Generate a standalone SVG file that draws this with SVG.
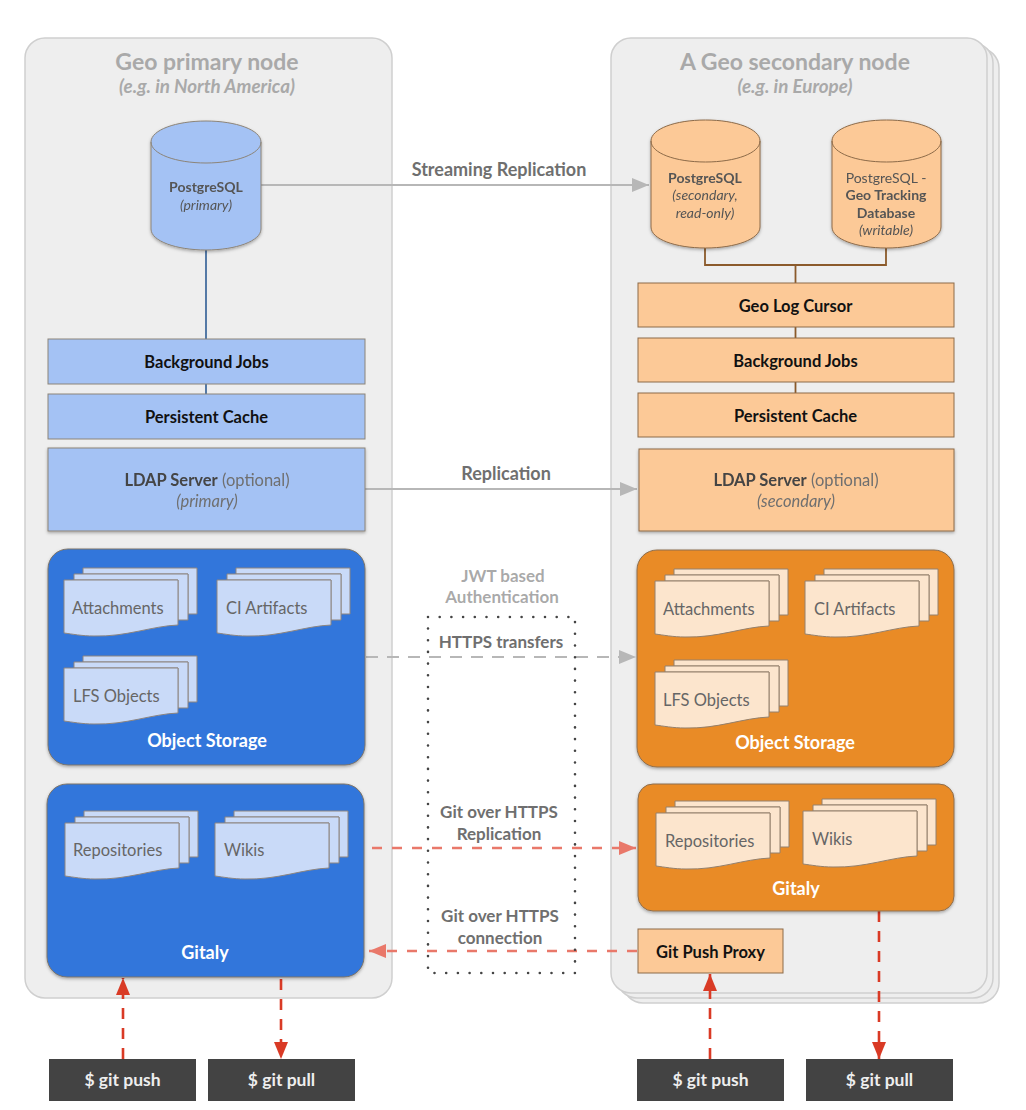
<svg xmlns="http://www.w3.org/2000/svg" xmlns:xlink="http://www.w3.org/1999/xlink" width="1026" height="1110" viewBox="0 0 1026 1110">
<style>
text{font-family:"Lato","Noto Sans","Liberation Sans",sans-serif;text-anchor:middle;transform:translateY(1px)}
.b{font-weight:700}.i{font-style:italic}
.title{font-size:23px;font-weight:700;fill:#a9a9a9}
.sub{font-size:18.800px;font-weight:700;font-style:italic;fill:#a9a9a9}
.lbl{font-size:17px;fill:#6f6f6f}
.lbl2{font-size:16.500px;fill:#6f6f6f}
.lbl18{font-size:18px}
.lblw{font-weight:700}
.box{font-size:16.500px;font-weight:700;fill:#111}
.db{font-size:14px;fill:#555}
.doc{font-size:16.500px;fill:#666;text-anchor:start}
.white{font-size:18px;font-weight:700;fill:#fff}
.cmd{font-size:17.500px;font-weight:700;fill:#eee}
.panel{fill:#eeeeee;stroke:#cfcfcf;stroke-width:1.500}
.bb{fill:#a4c2f4;stroke:#8c8478;stroke-width:1}
.ob{fill:#fcc997;stroke:#8c6a48;stroke-width:1}
.bs{fill:#3076db;stroke:#7d7468;stroke-width:1}
.os{fill:#e98b27;stroke:#8d6e4e;stroke-width:1}
.dark{fill:#434343}
.grey{fill:none;stroke:#b7b7b7;stroke-width:2.200}
.salmon{fill:none;stroke:#e9786a;stroke-width:2.400;stroke-dasharray:10 10}
.red{fill:none;stroke:#d93a25;stroke-width:2.600;stroke-dasharray:11 9}
.ds{fill:#c9daf8;stroke:#8d8580;stroke-width:1}
.dso{fill:#fce5cd;stroke:#94806c;stroke-width:1}
</style>
<defs>
<filter id="sh" x="-5%" y="-5%" width="110%" height="112%"><feDropShadow dx="0" dy="1.500" stdDeviation="1.500" flood-color="#000" flood-opacity="0.300"/></filter>
<g id="stack">
<path d="M19 -12H133V34H124V-6H19Z"/>
<path d="M10 -6H124V40H114V0H10Z"/>
<path d="M0 0H114V45C88 46 62 57 30 56 18 56 8 54 0 53Z"/>
</g>
<marker id="ag" markerUnits="userSpaceOnUse" markerWidth="18" markerHeight="14" refX="17" refY="7" orient="auto"><path d="M0 0L17 7L0 14Z" fill="#b7b7b7"/></marker>
<marker id="as" markerUnits="userSpaceOnUse" markerWidth="18" markerHeight="16" refX="17" refY="7" orient="auto"><path d="M0 0L17 7L0 14Z" fill="#e9786a"/></marker>
<marker id="ar" markerUnits="userSpaceOnUse" markerWidth="18" markerHeight="16" refX="17" refY="7" orient="auto"><path d="M0 0L17 7L0 14Z" fill="#d93a25"/></marker>
</defs>
<rect width="1026" height="1110" fill="#fff"/>

<g id="geo-primary-panel">
<rect class="panel" x="25" y="38" width="367" height="960" rx="20"/>
<text class="title" x="207" y="69">Geo primary node</text>
<text class="sub" x="207" y="92">(e.g. in North America)</text>
</g>
<g id="geo-secondary-panel">
<rect class="panel" x="623" y="48" width="376" height="955" rx="20"/>
<rect class="panel" x="617" y="43" width="376" height="955" rx="20"/>
<rect class="panel" x="611" y="38" width="376" height="955" rx="20"/>
<text class="title" x="795" y="69">A Geo secondary node</text>
<text class="sub" x="795" y="92">(e.g. in Europe)</text>
</g>

<g id="connectors">
<path d="M206 250V339M206 384V394" fill="none" stroke="#2f5d94" stroke-width="1.600"/>
<path d="M705 248V265H886V248M795.500 265V283M795.500 327V338M795.500 382V393" fill="none" stroke="#8b5a2b" stroke-width="1.800"/>
<path class="grey" d="M261 185H649" marker-end="url(#ag)"/>
<path class="grey" d="M365 489H637" marker-end="url(#ag)"/>
<path class="grey" d="M366 657H636" stroke-dasharray="12 9" marker-end="url(#ag)"/>
<path class="salmon" d="M372 848H636" marker-end="url(#as)"/>
<path class="salmon" d="M637 951H369" marker-end="url(#as)"/>
<path class="red" d="M123 1059V978" marker-end="url(#ar)"/>
<path class="red" d="M281 979V1059" marker-end="url(#ar)"/>
<path class="red" d="M710 1059V974" marker-end="url(#ar)"/>
<path class="red" d="M879 911V1059" marker-end="url(#ar)"/>
<rect x="428" y="617" width="147" height="356" fill="none" stroke="#444" stroke-width="2.600" stroke-linecap="round" stroke-dasharray="0 11.700"/>
</g>

<g id="connector-labels">
<text class="lbl lblw lbl18" x="499" y="175">Streaming Replication</text>
<text class="lbl lblw lbl18" x="506" y="479">Replication</text>
<text class="lbl lblw" x="503" y="581" fill-opacity=".6">JWT based</text>
<text class="lbl lblw" x="502" y="602" fill-opacity=".6">Authentication</text>
<text class="lbl lblw" x="501" y="647">HTTPS transfers</text>
<text class="lbl lblw" x="499" y="817">Git over HTTPS</text>
<text class="lbl lblw" x="499" y="839">Replication</text>
<text class="lbl lblw" x="500" y="921">Git over HTTPS</text>
<text class="lbl lblw" x="500" y="943">connection</text>
</g>

<g id="postgres-primary" filter="url(#sh)">
<path class="bb" d="M151 142V229C151 241 176 250 206 250S261 241 261 229V142C261 130 236 121 206 121S151 130 151 142C151 154 176 163 206 163S261 154 261 142"/>
<text class="db b" x="206" y="191" fill="#333">PostgreSQL</text>
<text class="db i" x="206" y="209">(primary)</text>
</g>
<g id="background-jobs-primary"><rect class="bb" x="48" y="339" width="317" height="45"/><text class="box" x="206.500" y="367">Background Jobs</text></g>
<g id="persistent-cache-primary"><rect class="bb" x="48" y="394" width="317" height="45"/><text class="box" x="206.500" y="422">Persistent Cache</text></g>
<g id="ldap-primary" filter="url(#sh)"><rect class="bb" x="48" y="448" width="317" height="83"/>
<text class="lbl2" x="207" y="485"><tspan class="b" fill="#444">LDAP Server</tspan> (optional)</text>
<text class="lbl2 i" x="207" y="506">(primary)</text></g>

<g id="object-storage-primary">
<rect class="bs" x="48" y="549" width="317" height="216" rx="20" filter="url(#sh)"/>
<use class="ds" xlink:href="#stack" href="#stack" x="64" y="580"/>
<use class="ds" xlink:href="#stack" href="#stack" x="217" y="580"/>
<use class="ds" xlink:href="#stack" href="#stack" x="64" y="668"/>
<text class="doc" x="72" y="613">Attachments</text>
<text class="doc" x="226" y="613">CI Artifacts</text>
<text class="doc" x="73" y="701">LFS Objects</text>
<text class="white" x="207" y="746">Object Storage</text>
</g>
<g id="gitaly-primary">
<rect class="bs" x="47" y="784" width="317" height="193" rx="20" filter="url(#sh)"/>
<use class="ds" xlink:href="#stack" href="#stack" x="65" y="823"/>
<use class="ds" xlink:href="#stack" href="#stack" x="215" y="823"/>
<text class="doc" x="73" y="855">Repositories</text>
<text class="doc" x="224" y="855">Wikis</text>
<text class="white" x="205" y="958">Gitaly</text>
</g>

<g id="postgres-secondary" filter="url(#sh)">
<path class="ob" d="M651 141V227C651 239 675 248 705.500 248S760 239 760 227V141C760 129 736 120 705.500 120S651 129 651 141C651 153 675 162 705.500 162S760 153 760 141"/>
<text class="db b" x="705" y="182" fill="#444">PostgreSQL</text>
<text class="db i" x="705" y="199">(secondary,</text>
<text class="db i" x="705" y="217">read-only)</text>
</g>
<g id="postgres-tracking" filter="url(#sh)">
<path class="ob" d="M832 141V227C832 239 856 248 886.500 248S941 239 941 227V141C941 129 917 120 886.500 120S832 129 832 141C832 153 856 162 886.500 162S941 153 941 141"/>
<text class="db" x="886" y="182">PostgreSQL -</text>
<text class="db b" x="886" y="199" fill="#444">Geo Tracking</text>
<text class="db b" x="886" y="217" fill="#444">Database</text>
<text class="db i" x="886" y="234">(writable)</text>
</g>
<g id="geo-log-cursor"><rect class="ob" x="638" y="283" width="316" height="44"/><text class="box" x="795.500" y="311">Geo Log Cursor</text></g>
<g id="background-jobs-secondary"><rect class="ob" x="638" y="338" width="316" height="44"/><text class="box" x="795.500" y="366">Background Jobs</text></g>
<g id="persistent-cache-secondary"><rect class="ob" x="638" y="393" width="316" height="44"/><text class="box" x="795.500" y="421">Persistent Cache</text></g>
<g id="ldap-secondary" filter="url(#sh)"><rect class="ob" x="639" y="449" width="315" height="82"/>
<text class="lbl2" x="796" y="485"><tspan class="b" fill="#444">LDAP Server</tspan> (optional)</text>
<text class="lbl2 i" x="796" y="506">(secondary)</text></g>

<g id="object-storage-secondary">
<rect class="os" x="637" y="550" width="317" height="217" rx="20" filter="url(#sh)"/>
<use class="dso" xlink:href="#stack" href="#stack" x="655" y="581"/>
<use class="dso" xlink:href="#stack" href="#stack" x="805" y="581"/>
<use class="dso" xlink:href="#stack" href="#stack" x="655" y="672"/>
<text class="doc" x="663" y="614">Attachments</text>
<text class="doc" x="814" y="614">CI Artifacts</text>
<text class="doc" x="663" y="705">LFS Objects</text>
<text class="white" x="795" y="748">Object Storage</text>
</g>
<g id="gitaly-secondary">
<rect class="os" x="638" y="784" width="316" height="127" rx="15" filter="url(#sh)"/>
<use class="dso" xlink:href="#stack" href="#stack" x="656" y="813"/>
<use class="dso" xlink:href="#stack" href="#stack" x="803" y="811"/>
<text class="doc" x="665" y="846">Repositories</text>
<text class="doc" x="812" y="844">Wikis</text>
<text class="white" x="796" y="894">Gitaly</text>
</g>
<g id="git-push-proxy"><rect class="ob" x="638" y="929" width="145" height="44"/><text class="box" x="710.500" y="957">Git Push Proxy</text></g>

<g id="git-push-primary"><rect class="dark" x="49" y="1059" width="147" height="42"/><text class="cmd" x="122.500" y="1085">$ git push</text></g>
<g id="git-pull-primary"><rect class="dark" x="208" y="1059" width="147" height="42"/><text class="cmd" x="281.500" y="1085">$ git pull</text></g>
<g id="git-push-secondary"><rect class="dark" x="637" y="1059" width="147" height="42"/><text class="cmd" x="710.500" y="1085">$ git push</text></g>
<g id="git-pull-secondary"><rect class="dark" x="806" y="1059" width="147" height="42"/><text class="cmd" x="879.500" y="1085">$ git pull</text></g>
</svg>
